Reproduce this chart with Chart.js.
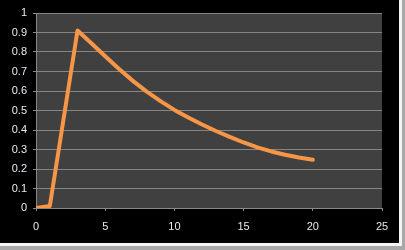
<!DOCTYPE html>
<html>
<head>
<meta charset="utf-8">
<script src="https://cdn.jsdelivr.net/npm/chart.js@4"></script>
<style>
  html, body { margin: 0; padding: 0; background: #a8a8a8; }
  #frame {
    position: absolute; left: 0; top: 0;
    width: 399px; height: 243px;
    background: #000;
    border-right: 3px solid #f4f4f4;
    border-bottom: 3px solid #f4f4f4;
  }
  #box { position: relative; width: 399px; height: 243px; }
</style>
</head>
<body>
<div id="frame"><div id="box"><canvas id="grafica"></canvas></div></div>
<script>
// ---------- Dades ----------
const xValues = [0, 1, 3, 4, 5, 6, 7, 8, 9, 10, 11, 12, 13, 14, 15, 16, 17, 18, 19, 20];
const yValues = [0, 0.01, 0.91, 0.845, 0.778, 0.713, 0.652, 0.597, 0.548, 0.503, 0.464, 0.428, 0.395, 0.365, 0.336, 0.311, 0.29, 0.273, 0.259, 0.247];
const xTicks = [0, 5, 10, 15, 20, 25];
const yTicks = [0, 0.1, 0.2, 0.3, 0.4, 0.5, 0.6, 0.7, 0.8, 0.9, 1];

// ---------- Fons de l'àrea del gràfic ----------
const plotBackground = {
  id: 'plotBackground',
  beforeDraw(chart) {
    const { ctx, chartArea: a } = chart;
    ctx.save();
    ctx.fillStyle = '#404040';
    ctx.fillRect(a.left, a.top, a.right - a.left, a.bottom - a.top);
    ctx.restore();
  }
};

const textColor = '#e4eaf2';
const font = { family: 'Liberation Sans', size: 11 };

new Chart(document.getElementById('grafica'), {
  type: 'line',
  data: {
    datasets: [{
      data: xValues.map((x, i) => ({ x: x, y: yValues[i] })),
      borderColor: '#f79646',
      borderWidth: 4,
      borderCapStyle: 'round',
      borderJoinStyle: 'round',
      pointRadius: 0,
      tension: 0
    }]
  },
  options: {
    responsive: true,
    maintainAspectRatio: false,
    animation: false,
    layout: { padding: { left: 0, top: 13, right: 17, bottom: 0 } },
    plugins: { legend: { display: false }, tooltip: { enabled: false } },
    scales: {
      x: {
        type: 'linear',
        min: 0,
        max: 25,
        afterBuildTicks: s => { s.ticks = xTicks.map(v => ({ value: v })); },
        afterFit: s => { s.height = 35; },
        grid: { drawOnChartArea: false, drawTicks: true, tickLength: 3, color: '#8a8a8a', tickColor: '#8a8a8a' },
        border: { color: '#8a8a8a' },
        ticks: { color: textColor, font: font, padding: 9, maxRotation: 0 }
      },
      y: {
        min: 0,
        max: 1,
        afterBuildTicks: s => { s.ticks = yTicks.map(v => ({ value: v })); },
        afterFit: s => { s.width = 36; },
        grid: { color: '#858585', tickLength: 3, tickColor: '#8a8a8a' },
        border: { color: '#8a8a8a' },
        ticks: { color: textColor, font: font, padding: 6, callback: v => String(Math.round(v * 10) / 10) }
      }
    }
  },
  plugins: [plotBackground]
});
</script>
</body>
</html>
